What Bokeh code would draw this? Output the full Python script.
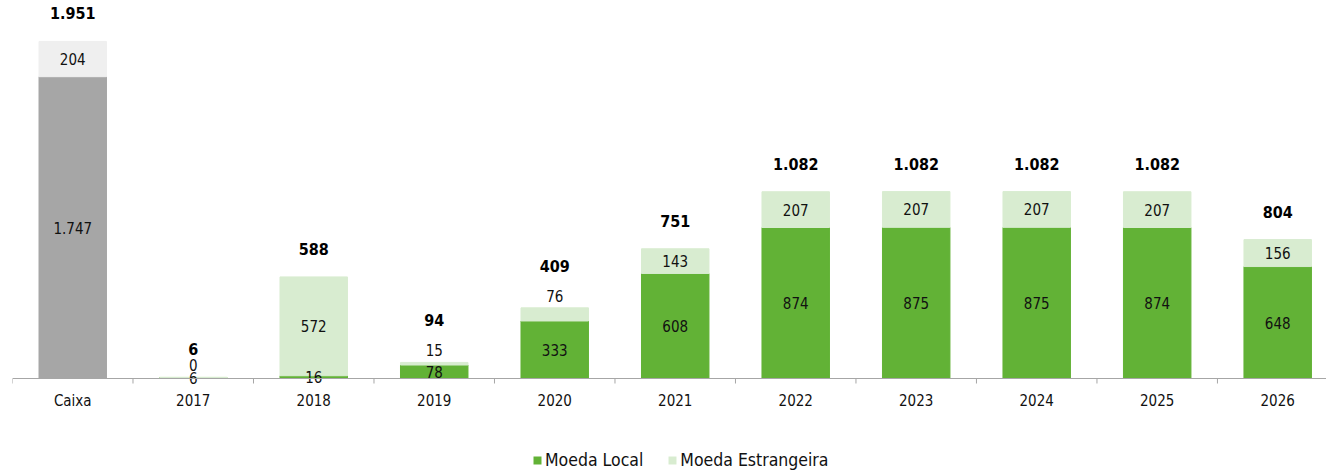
from bokeh.plotting import figure
from bokeh.layouts import column
from bokeh.models import Range1d, FixedTicker, ColumnDataSource, Legend, LegendItem, Span
from bokeh.core.properties import value
from bokeh.embed import file_html
from bokeh.resources import INLINE

categories = ["Caixa", "2017", "2018", "2019", "2020", "2021", "2022", "2023", "2024", "2025", "2026"]
moeda_local = [1747, 6, 16, 78, 333, 608, 874, 875, 875, 874, 648]
moeda_estrangeira = [204, 0, 572, 15, 76, 143, 207, 207, 207, 207, 156]
totals = [1951, 6, 588, 94, 409, 751, 1082, 1082, 1082, 1082, 804]

FONT = "DejaVu Sans Condensed, DejaVu Sans, sans-serif"
GREEN = "#62b236"
LIGHT_GREEN = "#d8ecd0"
GRAY = "#a6a6a6"
LIGHT_GRAY = "#efefef"
AXIS_GRAY = "#a6a6a6"


def fmt(v):
    return f"{v:,}".replace(",", ".")


xs = list(range(len(categories)))
Y_TOP = 2188
UNITS_PER_PX = Y_TOP / 378.0

p = figure(width=1326, height=430,
           x_range=Range1d(-0.5, 10.405), y_range=Range1d(-7 * UNITS_PER_PX, Y_TOP),
           output_backend="svg", toolbar_location=None, y_axis_location=None,
           min_border_left=12, min_border_right=0, min_border_top=0, min_border_bottom=45)
p.outline_line_color = None
p.xgrid.grid_line_color = None
p.ygrid.grid_line_color = None
p.background_fill_color = "white"

# Caixa bar (gray)
caixa = ColumnDataSource(dict(x=[xs[0]], loc=[moeda_local[0]], tot=[moeda_local[0] + moeda_estrangeira[0]]))
p.vbar(x="x", bottom=0, top="loc", width=0.56, color=GRAY, source=caixa)
p.vbar(x="x", bottom="loc", top="tot", width=0.56, color=LIGHT_GRAY, source=caixa)

# Year bars (green)
yrs = ColumnDataSource(dict(
    x=xs[1:],
    loc=moeda_local[1:],
    tot=[a + b for a, b in zip(moeda_local[1:], moeda_estrangeira[1:])],
))
p.vbar(x="x", bottom=0, top="loc", width=0.56, color=GREEN, source=yrs)
p.vbar(x="x", bottom="loc", top="tot", width=0.56, color=LIGHT_GREEN, source=yrs)

# Baseline at zero and category separator ticks
p.add_layout(Span(location=0, dimension="width", line_color=AXIS_GRAY, line_width=1))
bounds = [i - 0.5 for i in range(len(categories) + 1)]
p.segment(x0=bounds, y0=[0] * len(bounds), x1=bounds, y1=[-5 * UNITS_PER_PX] * len(bounds),
          line_color=AXIS_GRAY, line_width=1)

# Segment labels
loc_src = ColumnDataSource(dict(x=xs, y=[v / 2 for v in moeda_local], t=[fmt(v) for v in moeda_local]))
p.text(x="x", y="y", text="t", source=loc_src, text_align="center", text_baseline="middle",
       text_font=value(FONT), text_font_size="15px", text_color="#111111")

big_x, big_y, big_t, sm_x, sm_y, sm_t = [], [], [], [], [], []
for x, a, b in zip(xs, moeda_local, moeda_estrangeira):
    if b >= 100:
        big_x.append(x); big_y.append(a + b / 2); big_t.append(fmt(b))
    else:
        sm_x.append(x); sm_y.append(a + b); sm_t.append(fmt(b))
p.text(x="x", y="y", text="t", source=ColumnDataSource(dict(x=big_x, y=big_y, t=big_t)),
       text_align="center", text_baseline="middle",
       text_font=value(FONT), text_font_size="15px", text_color="#111111")
p.text(x="x", y="y", text="t", source=ColumnDataSource(dict(x=sm_x, y=sm_y, t=sm_t)),
       text_align="center", text_baseline="middle", y_offset=-12,
       text_font=value(FONT), text_font_size="15px", text_color="#111111")

# Totals: those above a small outside label sit higher
t_hi_x, t_hi_y, t_hi_t, t_lo_x, t_lo_y, t_lo_t = [], [], [], [], [], []
for x, b, t in zip(xs, moeda_estrangeira, totals):
    if 0 < b < 100:
        t_hi_x.append(x); t_hi_y.append(t); t_hi_t.append(fmt(t))
    else:
        t_lo_x.append(x); t_lo_y.append(t); t_lo_t.append(fmt(t))
for src, off in ((dict(x=t_lo_x, y=t_lo_y, t=t_lo_t), -28), (dict(x=t_hi_x, y=t_hi_y, t=t_hi_t), -42)):
    p.text(x="x", y="y", text="t", source=ColumnDataSource(src), text_align="center",
           text_baseline="middle", y_offset=off, text_font=value(FONT), text_font_size="16px",
           text_font_style="bold", text_color="#000000")

# Axis: category labels only (baseline/ticks drawn above at zero)
ax = p.xaxis[0]
ax.ticker = FixedTicker(ticks=xs)
ax.major_label_overrides = {i: c for i, c in enumerate(categories)}
ax.major_tick_line_color = None
ax.minor_tick_line_color = None
ax.axis_line_color = None
ax.major_label_text_font = FONT
ax.major_label_text_font_size = "15px"
ax.major_label_text_color = "#111111"
ax.major_label_standoff = 0

# Legend in a separate strip below
lg = figure(width=1326, height=40, x_range=Range1d(0, 1), y_range=Range1d(0, 1),
            output_backend="svg", toolbar_location=None, x_axis_location=None, y_axis_location=None,
            min_border_left=0, min_border_right=0, min_border_top=0, min_border_bottom=0)
lg.outline_line_color = None
lg.xgrid.grid_line_color = None
lg.ygrid.grid_line_color = None
placeholder = ColumnDataSource(dict(x=[0.5], b=[0.5], t=[0.5]))
r1 = lg.vbar(x="x", bottom="b", top="t", width=0, fill_color=GREEN, line_color=None, source=placeholder)
r2 = lg.vbar(x="x", bottom="b", top="t", width=0, fill_color=LIGHT_GREEN, line_color=None, source=placeholder)
legend = Legend(items=[LegendItem(label="Moeda Local", renderers=[r1]),
                       LegendItem(label="Moeda Estrangeira", renderers=[r2])],
                orientation="horizontal", location=(520, 0),
                label_text_font=FONT, label_text_font_size="17.5px", label_text_color="#111111",
                glyph_width=10, glyph_height=10, label_standoff=3, spacing=24,
                border_line_color=None, background_fill_alpha=0, padding=1, margin=0)
lg.add_layout(legend, "center")

layout = column(p, lg, spacing=0)
open("out.html", "w").write(file_html(layout, INLINE))
